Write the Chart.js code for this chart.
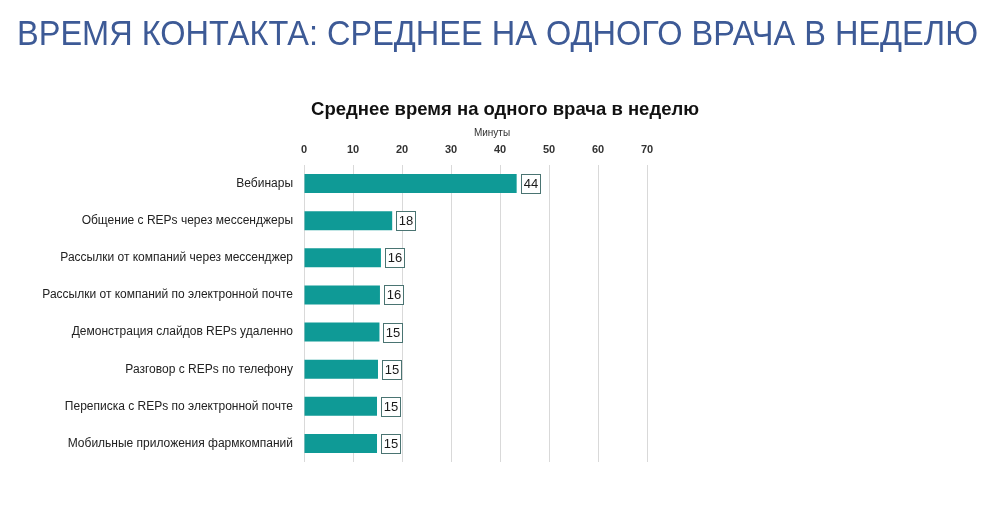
<!DOCTYPE html>
<html><head><meta charset="utf-8">
<script src="https://cdn.jsdelivr.net/npm/chart.js@4/dist/chart.umd.min.js"></script>
<style>html,body{margin:0;padding:0;background:#fff;}#wrap{position:relative;width:1000px;height:511px;}</style>
</head><body><div id="wrap"><canvas id="c" width="1000" height="511"></canvas></div>
<script>
const slideTitle = 'ВРЕМЯ КОНТАКТА: СРЕДНЕЕ НА ОДНОГО ВРАЧА В НЕДЕЛЮ';
const chartTitle = 'Среднее время на одного врача в неделю';
const axisTitle = 'Минуты';
const categories = [
  'Вебинары',
  'Общение с REPs через мессенджеры',
  'Рассылки от компаний через мессенджер',
  'Рассылки от компаний по электронной почте',
  'Демонстрация слайдов REPs удаленно',
  'Разговор с REPs по телефону',
  'Переписка с REPs по электронной почте',
  'Мобильные приложения фармкомпаний'
];
const values = [43.4, 18.0, 15.7, 15.5, 15.4, 15.1, 14.9, 14.9];
const valueLabels = ['44', '18', '16', '16', '15', '15', '15', '15'];
const xTicks = [0, 10, 20, 30, 40, 50, 60, 70];

const textPlugin = {
  id: 'texts',
  afterDraw(chart) {
    const ctx = chart.ctx;
    ctx.save();
    // slide title
    ctx.font = '35px "Liberation Sans Narrow", "Liberation Sans", Arial, sans-serif';
    ctx.fillStyle = '#3d5a96';
    ctx.textBaseline = 'alphabetic';
    ctx.textAlign = 'left';
    const w = ctx.measureText(slideTitle).width;
    const target = 961;
    ctx.save();
    ctx.translate(17, 45);
    ctx.scale(target / w, 1);
    ctx.fillText(slideTitle, 0, 0);
    ctx.restore();
    // chart title
    ctx.font = 'bold 18.5px "Liberation Sans", Arial, sans-serif';
    ctx.fillStyle = '#111';
    ctx.textAlign = 'center';
    ctx.fillText(chartTitle, 505, 115);
    // axis title
    ctx.font = '10px "Liberation Sans", Arial, sans-serif';
    ctx.fillStyle = '#333';
    ctx.fillText(axisTitle, 492, 136);
    // value labels
    const meta = chart.getDatasetMeta(0);
    ctx.font = '13px "Liberation Sans", Arial, sans-serif';
    ctx.textAlign = 'center';
    ctx.textBaseline = 'middle';
    meta.data.forEach((bar, i) => {
      const t = valueLabels[i];
      const tw = ctx.measureText(t).width;
      const bw = Math.round(tw + 5), bh = 19;
      const bx = Math.round(bar.x + 4) + 0.5, by = Math.round(bar.y - bh / 2) + 0.5;
      ctx.fillStyle = '#fff';
      ctx.fillRect(bx, by, bw, bh);
      ctx.strokeStyle = '#4a7472';
      ctx.lineWidth = 1;
      ctx.strokeRect(bx, by, bw, bh);
      ctx.fillStyle = '#1a1a1a';
      ctx.fillText(t, bx + bw / 2, by + bh / 2 + 0.5);
    });
    ctx.restore();
  }
};

new Chart(document.getElementById('c'), {
  type: 'bar',
  data: {
    labels: categories,
    datasets: [{
      data: values,
      backgroundColor: '#0f9a96',
      borderWidth: 0,
      categoryPercentage: 1,
      barPercentage: 0.51
    }]
  },
  options: {
    indexAxis: 'y',
    responsive: false,
    animation: false,
    events: [],
    layout: { padding: { top: 135, left: 0, right: 353, bottom: 49 } },
    plugins: { legend: { display: false }, title: { display: false }, tooltip: { enabled: false } },
    scales: {
      x: {
        position: 'top',
        min: 0, max: 70,
        afterBuildTicks(scale) { scale.ticks = xTicks.map(v => ({ value: v })); },
        afterFit(scale) { scale.height = 30; },
        grid: { color: '#d9d9d9', lineWidth: 1, drawTicks: false },
        border: { display: false },
        ticks: {
          padding: 8,
          color: '#333',
          font: { family: '"Liberation Sans", Arial, sans-serif', size: 11, weight: 'bold' }
        }
      },
      y: {
        afterFit(scale) { scale.width = 304; },
        grid: { display: false, drawTicks: false },
        border: { display: false },
        ticks: {
          padding: 11,
          color: '#222',
          font: { family: '"Liberation Sans", Arial, sans-serif', size: 12 }
        }
      }
    }
  },
  plugins: [textPlugin]
});
</script></body></html>
